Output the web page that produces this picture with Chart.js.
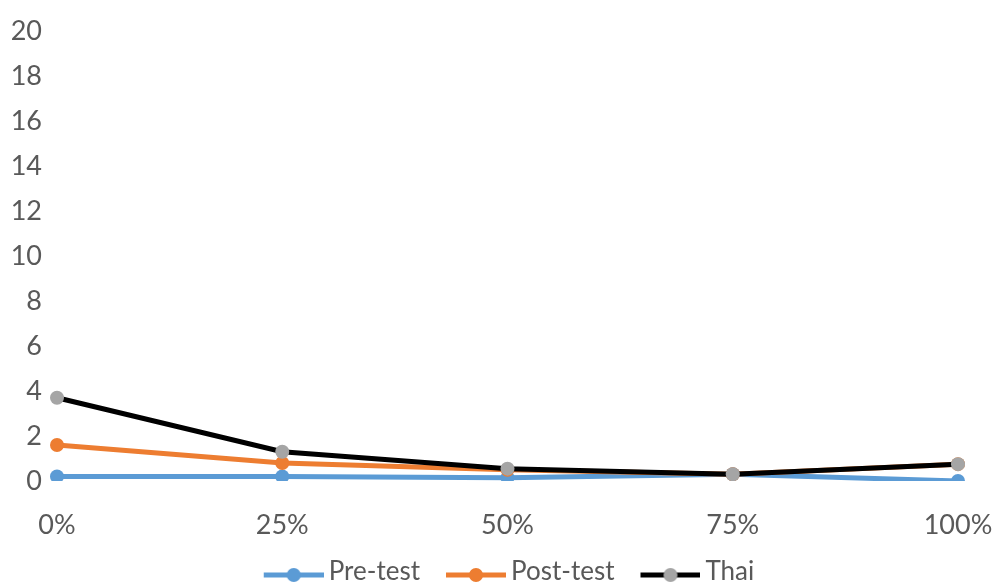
<!DOCTYPE html>
<html>
<head>
<meta charset="utf-8">
<script src="https://cdn.jsdelivr.net/npm/chart.js@4"></script>
<style>
html,body{margin:0;padding:0;background:#fff;}
#wrap{width:998px;height:584px;position:relative;}
</style>
</head>
<body>
<div id="wrap"><canvas id="c" width="998" height="584"></canvas></div>
<script>
const categories = ['0%', '25%', '50%', '75%', '100%'];
const preTest = [0.2, 0.2, 0.15, 0.3, 0.0];
const postTest = [1.6, 0.8, 0.5, 0.3, 0.75];
const thai = [3.7, 1.3, 0.55, 0.3, 0.75];
const seriesNames = ['Pre-test', 'Post-test', 'Thai'];
const yTicksMax = 20;
const yTickStep = 2;

const FONT = 'Lato';
const TEXT = '#595959';

function legendIcon(lineColor, pointColor) {
  const c = document.createElement('canvas');
  c.width = 82; c.height = 24;
  const g = c.getContext('2d');
  g.strokeStyle = lineColor; g.lineWidth = 5;
  g.beginPath(); g.moveTo(22, 15); g.lineTo(82, 15); g.stroke();
  g.fillStyle = pointColor;
  g.beginPath(); g.arc(52, 15, 7, 0, Math.PI * 2); g.fill();
  return c;
}

const styles = [
  {line: '#5B9BD5', point: '#5B9BD5'},
  {line: '#ED7D31', point: '#ED7D31'},
  {line: '#000000', point: '#A5A5A5'}
];
const values = [preTest, postTest, thai];

const datasets = seriesNames.map((n, i) => ({
  label: n,
  data: values[i],
  borderColor: styles[i].line,
  backgroundColor: styles[i].point,
  pointBackgroundColor: styles[i].point,
  pointBorderColor: styles[i].point,
  borderWidth: 5,
  pointRadius: 7,
  pointBorderWidth: 0,
  tension: 0,
  order: 3 - i
}));

new Chart(document.getElementById('c'), {
  type: 'line',
  data: {labels: categories, datasets},
  options: {
    responsive: false,
    animation: false,
    devicePixelRatio: 1,
    layout: {padding: {left: 6, right: 0, top: 30, bottom: -11}},
    plugins: {
      tooltip: {enabled: false},
      legend: {
        position: 'bottom',
        labels: {
          usePointStyle: true,
          pointStyleWidth: 66,
          padding: 12,
          color: TEXT,
          font: {family: FONT, size: 26},
          generateLabels: (chart) => seriesNames.map((n, i) => ({
            text: n,
            pointStyle: legendIcon(styles[i].line, styles[i].point),
            fillStyle: styles[i].point,
            strokeStyle: styles[i].line,
            lineWidth: 0,
            fontColor: TEXT,
            datasetIndex: i,
            hidden: false
          }))
        }
      }
    },
    scales: {
      x: {
        offset: false,
        grid: {display: false, drawTicks: false},
        border: {display: false},
        ticks: {color: TEXT, font: {family: FONT, size: 27}, padding: 28, maxRotation: 0},
        afterFit: (s) => { s.height = 66; s.paddingLeft = 0; s.paddingRight = 40; }
      },
      y: {
        min: 0, max: yTicksMax,
        grid: {display: false, drawTicks: false},
        border: {display: false},
        ticks: {stepSize: yTickStep, color: TEXT, font: {family: FONT, size: 27}, padding: 15},
        afterFit: (s) => { s.width = 51; }
      }
    }
  }
});
</script>
</body>
</html>
